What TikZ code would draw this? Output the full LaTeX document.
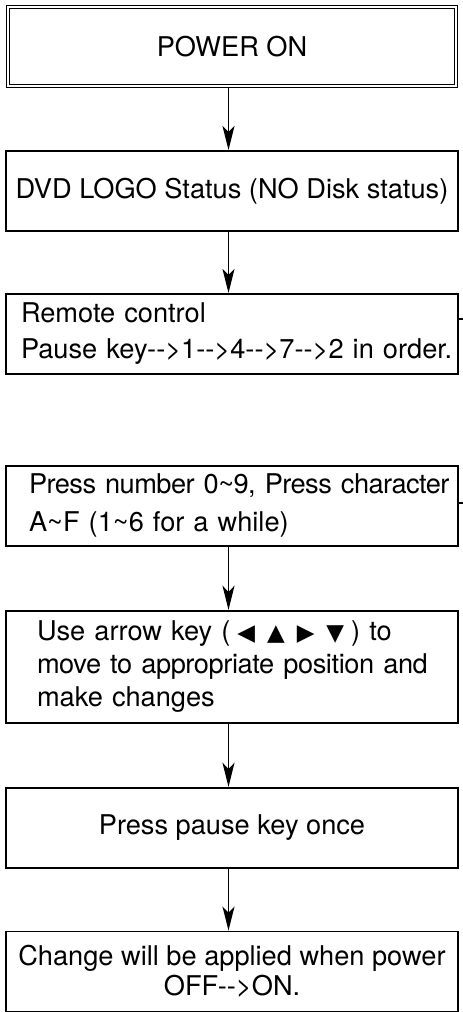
\documentclass[tikz,border=0pt]{standalone}
\usepackage{fontspec}
\setmainfont{TeX Gyre Heros}
\newfontfamily\symfont{DejaVu Sans}
\usetikzlibrary{positioning,arrows.meta}
\hfuzz=30pt
\newcommand{\flowfont}[1]{\fontsize{27.2}{#1}\selectfont}
\newcommand{\tri}[1]{{\symfont\fontsize{23}{23}\selectfont #1}}

\tikzset{
  stepbox/.style={draw, line width=1.8pt, minimum width=452pt, minimum height=80pt,
    inner sep=2pt, font=\flowfont{32}},
  startbox/.style={stepbox, double, line width=1.2pt, double distance=1.8pt,
    minimum width=448pt, minimum height=78.8pt},
  leftbox/.style={stepbox, align=left, text width=#1},
  flow/.style={-{Stealth[length=24pt,width=12pt,inset=6pt]}, line width=1.9pt},
}

\begin{document}
\begin{tikzpicture}[x=1pt,y=1pt]
\useasboundingbox (0,0) rectangle (463,-1012);

\node[startbox] (power) at (232,-46.5) {POWER ON};
\node[stepbox, minimum height=80.2pt, below=63.5pt of power] (logo) {DVD LOGO Status (NO Disk status)};
\node[leftbox=422pt, font=\flowfont{36}, minimum height=80.2pt, below=61pt of logo] (remote)
  {Remote control\\ \mbox{Pause key-{}->1-{}->4-{}->7-{}->2 in order.}};
\node[leftbox=406pt, font=\flowfont{38}, below=90pt of remote] (number)
  {\mbox{\addfontfeature{LetterSpace=-2}Press number 0\textasciitilde 9, Press character}\\ A\textasciitilde F (1\textasciitilde 6 for a while)};
\node[leftbox=390pt, font=\flowfont{33}, minimum height=112.2pt, below=63pt of number] (arrowkey)
  {\mbox{Use arrow key (\hspace{7pt}\tri{◀}\hspace{12pt}\tri{▲}\hspace{12pt}\tri{▶}\hspace{12pt}\tri{▼}\hspace{7pt}) to}\\
   \mbox{\addfontfeature{LetterSpace=-1.5}move to appropriate position and}\\ make changes};
\node[stepbox, below=63pt of arrowkey] (pause) {Press pause key once};
\node[stepbox, align=center, font=\flowfont{30}, below=62pt of pause] (apply)
  {Change will be applied when power\\ OFF-{}->ON.};

% cut stubs at the right edge
\coordinate (stubA) at (463,-319);
\coordinate (stubB) at (463,-503);
\draw[line width=1.8pt] (stubA -| remote.east) -- (stubA);
\draw[line width=1.8pt] (stubB -| number.east) -- (stubB);

\foreach \a/\b in {power/logo, logo/remote, number/arrowkey, arrowkey/pause, pause/apply}
  \draw[flow] ([xshift=-3.5pt]\a.south) -- ([xshift=-3.5pt]\b.north);
\end{tikzpicture}
\end{document}
